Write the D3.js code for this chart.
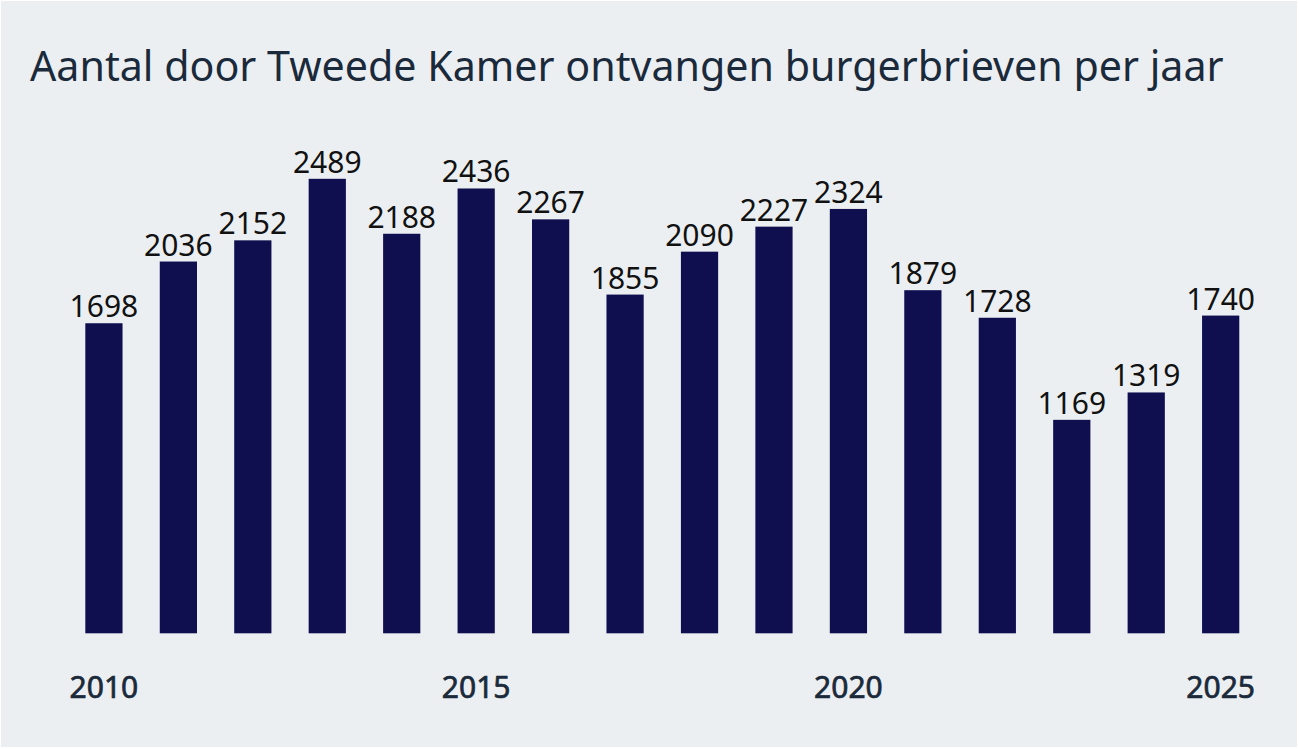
<!DOCTYPE html>
<html>
<head>
<meta charset="utf-8">
<script src="https://cdn.jsdelivr.net/npm/d3@7"></script>
<style>
	html, body { margin: 0; padding: 0; background: #ffffff; }
	svg { display: block; }
</style>
</head>
<body>
<div id="grafiek"></div>
<script>
// data
var jaren = [2010, 2011, 2012, 2013, 2014, 2015, 2016, 2017, 2018, 2019, 2020, 2021, 2022, 2023, 2024, 2025];
var brieven = [1698, 2036, 2152, 2489, 2188, 2436, 2267, 1855, 2090, 2227, 2324, 1879, 1728, 1169, 1319, 1740];
var jaarLabels = [2010, 2015, 2020, 2025];
var titel = 'Aantal door Tweede Kamer ontvangen burgerbrieven per jaar';

var Breedte = 1299, Hoogte = 749;
var lettertype = '"Noto Sans", "Open Sans", sans-serif';

var svg = d3.select('#grafiek')
	.append('svg')
		.attr('width', Breedte)
		.attr('height', Hoogte);

// achtergrond met dun wit randje
svg.append('rect')
	.attr('width', Breedte)
	.attr('height', Hoogte)
	.attr('fill', '#ffffff');
svg.append('rect')
	.attr('x', 1).attr('y', 1)
	.attr('width', Breedte - 3)
	.attr('height', Hoogte - 3)
	.attr('fill', '#ebeff1');

svg.append('text')
	.attr('x', 30)
	.attr('y', 81)
	.attr('font-family', lettertype)
	.attr('font-size', 41.2)
	.attr('fill', '#1b2a3b')
	.text(titel);

var x = d3.scaleBand()
	.domain(jaren)
	.range([66.7, 1257.9])
	.paddingInner(0.5)
	.paddingOuter(0.25);

var y = d3.scaleLinear()
	.domain([0, 2500])
	.range([633.3, 176.8]);

var staven = svg.append('g');

staven.selectAll('rect')
	.data(jaren)
	.enter()
	.append('rect')
		.attr('x', d => x(d))
		.attr('y', (d, i) => y(brieven[i]))
		.attr('width', x.bandwidth())
		.attr('height', (d, i) => y(0) - y(brieven[i]))
		.attr('fill', '#0f0f50');

staven.selectAll('text')
	.data(jaren)
	.enter()
	.append('text')
		.attr('x', d => x(d) + x.bandwidth() / 2)
		.attr('y', (d, i) => y(brieven[i]) - 6)
		.attr('text-anchor', 'middle')
		.attr('font-family', lettertype)
		.attr('font-size', 30)
		.attr('fill', '#111111')
		.text((d, i) => brieven[i]);

// x-as zonder lijn, alleen labels
var as = svg.append('g')
	.attr('transform', 'translate(0,633.3)')
	.call(d3.axisBottom(x).tickValues(jaarLabels).tickSize(0).tickPadding(0));
as.select('.domain').remove();
as.selectAll('text')
	.attr('dy', null)
	.attr('y', 65)
	.attr('font-family', lettertype)
	.attr('font-size', 30)
	.attr('font-weight', 400)
	.attr('fill', '#1b2a3b')
	.attr('stroke', '#1b2a3b')
	.attr('stroke-width', 0.7);
</script>
</body>
</html>
